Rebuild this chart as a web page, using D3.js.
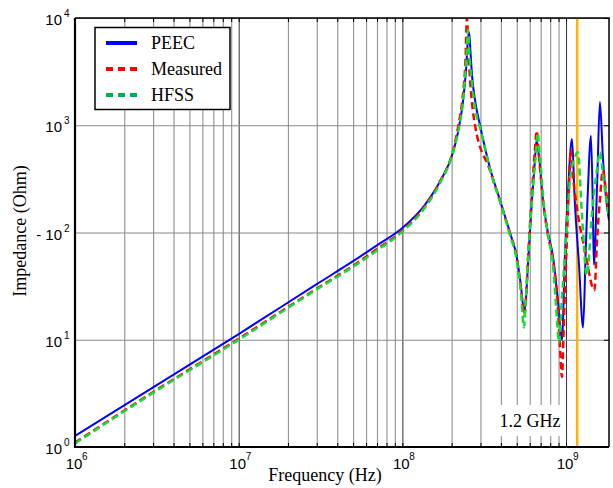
<!DOCTYPE html>
<html>
<head>
<meta charset="utf-8">
<script src="https://cdn.jsdelivr.net/npm/d3@7"></script>
<style>
  body { margin: 0; background: #fff; }
  svg { display: block; }
</style>
</head>
<body>
<script>
// impedance curves, [frequency Hz, impedance Ohm]
const peec = [
  [1e6, 1.27], [3e6, 3.6], [1e7, 11.3], [3e7, 33], [5e7, 54], [7e7, 76], [1e8, 110],
  [1.37e8, 180], [1.7e8, 300], [2.04e8, 560], [2.2e8, 900], [2.35e8, 1700], [2.45e8, 3300],
  [2.52e8, 6500], [2.56e8, 7300], [2.6e8, 5200], [2.66e8, 3000], [2.8e8, 1600], [2.98e8, 1000],
  [3.43e8, 400], [3.95e8, 200], [4.54e8, 100], [5e8, 59], [5.3e8, 32], [5.55e8, 18], [5.7e8, 25],
  [5.85e8, 50], [6.19e8, 200], [6.46e8, 480], [6.6e8, 720], [6.75e8, 600], [6.93e8, 420],
  [7.23e8, 200], [7.75e8, 100], [8.32e8, 60], [8.92e8, 23], [9.44e8, 10], [9.84e8, 60],
  [1.03e9, 250], [1.087e9, 745], [1.13e9, 200], [1.2e9, 50], [1.27e9, 13], [1.32e9, 70],
  [1.36e9, 250], [1.42e9, 800], [1.46e9, 150], [1.48e9, 50], [1.55e9, 300], [1.61e9, 1650],
  [1.68e9, 500], [1.75e9, 220], [1.83e9, 130]
];
const measured = [
  [1e6, 1.1], [3e6, 3.25], [1e7, 10.2], [3e7, 30], [5e7, 49], [7e7, 70], [1e8, 104],
  [1.37e8, 175], [1.7e8, 300], [2.04e8, 580], [2.2e8, 1000], [2.35e8, 2000], [2.43e8, 4000],
  [2.48e8, 10000], [2.53e8, 5000], [2.6e8, 2500], [2.78e8, 1000], [3.43e8, 380], [3.95e8, 195],
  [4.54e8, 98], [5e8, 58], [5.3e8, 30], [5.55e8, 17], [5.7e8, 25], [5.85e8, 55], [6.19e8, 230],
  [6.46e8, 600], [6.62e8, 890], [6.75e8, 650], [6.93e8, 400], [7.23e8, 200], [7.75e8, 95],
  [8.32e8, 55], [8.92e8, 20], [9.2e8, 8], [9.44e8, 4.5], [9.7e8, 15], [1.01e9, 80],
  [1.04e9, 250], [1.07e9, 590], [1.1e9, 350], [1.18e9, 150], [1.3e9, 70], [1.49e9, 29],
  [1.55e9, 90], [1.61e9, 200], [1.68e9, 380], [1.75e9, 250], [1.83e9, 150]
];
const hfss = [
  [1e6, 1.08], [3e6, 3.2], [1e7, 10.0], [3e7, 29.5], [5e7, 48], [7e7, 68], [1e8, 102],
  [1.37e8, 170], [1.7e8, 290], [2.04e8, 560], [2.2e8, 900], [2.35e8, 1700], [2.45e8, 3800],
  [2.52e8, 7800], [2.57e8, 4500], [2.66e8, 2500], [2.85e8, 1200], [2.98e8, 950], [3.43e8, 390],
  [3.95e8, 195], [4.54e8, 95], [5e8, 55], [5.3e8, 28], [5.53e8, 13], [5.65e8, 20], [5.85e8, 55],
  [6.19e8, 200], [6.55e8, 550], [6.72e8, 850], [6.85e8, 600], [7e8, 420], [7.23e8, 220],
  [7.75e8, 95], [8.32e8, 50], [8.7e8, 20], [9.06e8, 9.4], [9.44e8, 25], [9.84e8, 60],
  [1.055e9, 300], [1.13e9, 500], [1.18e9, 560], [1.25e9, 150], [1.34e9, 40], [1.44e9, 150],
  [1.55e9, 400], [1.61e9, 560], [1.7e9, 300], [1.83e9, 140]
];

const seriesNames = ["PEEC", "Measured", "HFSS"];
const xExponents = [6, 7, 8, 9];
const yExponents = [0, 1, 2, 3, 4];
const markerFreq = 1.17e9;
const markerLabel = "1.2 GHz";

const width = 613, height = 488;
const mLeft = 75, mRight = 609, mTop = 18, mBottom = 447;

const svg = d3.select("body").append("svg")
  .attr("width", width)
  .attr("height", height);

const x = d3.scaleLog().domain([1e6, 1.83e9]).range([mLeft, mRight]);
const y = d3.scaleLog().domain([1, 1e4]).range([mBottom, mTop]);

const decadeX = xExponents.map(e => Math.pow(10, e));
const decadeY = yExponents.map(e => Math.pow(10, e));
const minorX = x.ticks().filter(v => !decadeX.includes(v));

// grid
svg.append("g")
  .attr("transform", "translate(0," + mBottom + ")")
  .call(d3.axisBottom(x).tickValues(minorX).tickSize(-(mBottom - mTop)).tickFormat(""))
  .call(g => g.select(".domain").remove())
  .selectAll("line").attr("stroke", "#999").attr("stroke-width", 1.2);

svg.append("g")
  .attr("transform", "translate(0," + mBottom + ")")
  .call(d3.axisBottom(x).tickValues(decadeX).tickSize(-(mBottom - mTop)).tickFormat(""))
  .call(g => g.select(".domain").remove())
  .selectAll("line").attr("stroke", "#333").attr("stroke-width", 1);

svg.append("g")
  .attr("transform", "translate(" + mLeft + ",0)")
  .call(d3.axisLeft(y).tickValues(decadeY).tickSize(-(mRight - mLeft)).tickFormat(""))
  .call(g => g.select(".domain").remove())
  .selectAll("line").attr("stroke", "#888").attr("stroke-width", 1);

// inward ticks on the frame
svg.append("g")
  .attr("transform", "translate(0," + mBottom + ")")
  .call(d3.axisTop(x).tickValues(x.ticks()).tickSize(4).tickFormat("").tickSizeOuter(0))
  .call(g => g.select(".domain").remove())
  .selectAll("line").attr("stroke", "#000");
svg.append("g")
  .attr("transform", "translate(0," + mTop + ")")
  .call(d3.axisBottom(x).tickValues(x.ticks()).tickSize(4).tickFormat("").tickSizeOuter(0))
  .call(g => g.select(".domain").remove())
  .selectAll("line").attr("stroke", "#000");
svg.append("g")
  .attr("transform", "translate(" + mRight + ",0)")
  .call(d3.axisLeft(y).tickValues(decadeY).tickSize(5).tickFormat("").tickSizeOuter(0))
  .call(g => g.select(".domain").remove())
  .selectAll("line").attr("stroke", "#000");

// 1.2 GHz marker
svg.append("rect")
  .attr("x", 497).attr("y", 405)
  .attr("width", 66).attr("height", 31)
  .attr("fill", "#fff");
svg.append("text")
  .attr("x", 530).attr("y", 427)
  .attr("text-anchor", "middle")
  .style("font-family", "'Liberation Serif', 'Times New Roman', serif")
  .style("font-size", "18px")
  .text(markerLabel);

// curves
svg.append("clipPath").attr("id", "plot")
  .append("rect").attr("x", mLeft).attr("y", mTop)
  .attr("width", mRight - mLeft).attr("height", mBottom - mTop);

const line = d3.line()
  .x(d => x(d[0]))
  .y(d => y(d[1]))
  .curve(d3.curveMonotoneX);

const plot = svg.append("g").attr("clip-path", "url(#plot)");

plot.append("line")
  .attr("x1", x(markerFreq)).attr("x2", x(markerFreq))
  .attr("y1", mTop).attr("y2", mBottom)
  .attr("stroke", "#ffb400").attr("stroke-width", 2.5);

plot.append("path").datum(peec)
  .attr("d", line).attr("fill", "none")
  .attr("stroke", "#0000ff").attr("stroke-width", 2);
plot.append("path").datum(measured)
  .attr("d", line).attr("fill", "none")
  .attr("stroke", "#ff0000").attr("stroke-width", 2.5)
  .attr("stroke-dasharray", "7,4");
plot.append("path").datum(hfss)
  .attr("d", line).attr("fill", "none")
  .attr("stroke", "#11dd33").attr("stroke-width", 2.5)
  .attr("stroke-dasharray", "7,4");

// frame
svg.append("path")
  .attr("d", `M${mLeft},${mTop}H${mRight}V${mBottom}`)
  .attr("fill", "none").attr("stroke", "#000").attr("stroke-width", 1.5);
svg.append("path")
  .attr("d", `M${mLeft},${mTop}V${mBottom}H${mRight}`)
  .attr("fill", "none").attr("stroke", "#000").attr("stroke-width", 2.2);

// tick labels
const tickFont = "'Liberation Sans', Arial, sans-serif";
xExponents.forEach(e => {
  const px = x(Math.pow(10, e));
  svg.append("text").attr("x", px - 1).attr("y", 469)
    .attr("text-anchor", "middle")
    .style("font-family", tickFont).style("font-size", "15px")
    .text("10");
  svg.append("text").attr("x", px + 7).attr("y", 460)
    .style("font-family", tickFont).style("font-size", "10px")
    .text(e);
});
yExponents.forEach(e => {
  const py = y(Math.pow(10, e));
  svg.append("text").attr("x", 62).attr("y", py + 7)
    .attr("text-anchor", "end")
    .style("font-family", tickFont).style("font-size", "15px")
    .text(e === 2 ? "- 10" : "10");
  svg.append("text").attr("x", 64).attr("y", py - 1)
    .style("font-family", tickFont).style("font-size", "10px")
    .text(e);
});

// axis titles
const serif = "'Liberation Serif', 'Times New Roman', serif";
svg.append("text")
  .attr("x", 325).attr("y", 481)
  .attr("text-anchor", "middle")
  .style("font-family", serif).style("font-size", "18px")
  .text("Frequency (Hz)");
svg.append("text")
  .attr("transform", "translate(26,231) rotate(-90)")
  .attr("text-anchor", "middle")
  .style("font-family", serif).style("font-size", "18px")
  .text("Impedance (Ohm)");

// legend
const legend = svg.append("g");
legend.append("rect")
  .attr("x", 95).attr("y", 27.5)
  .attr("width", 135).attr("height", 82)
  .attr("fill", "#fff").attr("stroke", "#000").attr("stroke-width", 1.5);
const legendColors = ["#0000ff", "#ff0000", "#00b050"];
const legendDash = [null, "7,5", "7,5"];
seriesNames.forEach((name, i) => {
  const ly = 43 + i * 26;
  legend.append("line")
    .attr("x1", 106).attr("x2", 137)
    .attr("y1", ly).attr("y2", ly)
    .attr("stroke", legendColors[i]).attr("stroke-width", 4)
    .attr("stroke-dasharray", legendDash[i]);
  legend.append("text")
    .attr("x", 151).attr("y", ly + 6)
    .style("font-family", serif).style("font-size", "18px")
    .text(name);
});
</script>
</body>
</html>
